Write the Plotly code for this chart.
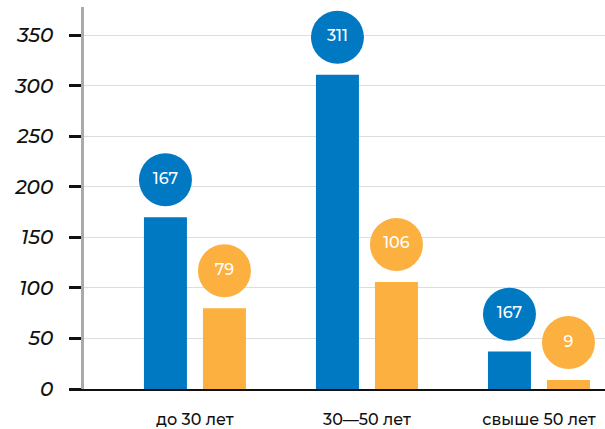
import plotly.graph_objects as go

categories = ["до 30 лет", "30—50 лет", "свыше 50 лет"]
blue_values = [170, 311, 37]
orange_values = [80, 106, 9]
blue_labels = ["167", "311", "167"]
orange_labels = ["79", "106", "9"]
y_ticks = [0, 50, 100, 150, 200, 250, 300, 350]

BLUE = "#0079C2"
ORANGE = "#FBB040"
FONT = "Montserrat, 'Open Sans', Lato, sans-serif"

pos = list(range(len(categories)))
bar_w = 0.25
shift = 0.1715
circle_gap = 37

fig = go.Figure()
fig.add_trace(go.Bar(x=pos, y=blue_values, width=bar_w, offset=-shift - bar_w / 2,
                     marker=dict(color=BLUE, line=dict(width=0)), showlegend=False,
                     hoverinfo="skip"))
fig.add_trace(go.Bar(x=pos, y=orange_values, width=bar_w, offset=shift - bar_w / 2,
                     marker=dict(color=ORANGE, line=dict(width=0)), showlegend=False,
                     hoverinfo="skip"))
fig.add_trace(go.Scatter(x=[p - shift for p in pos], y=[v + circle_gap for v in blue_values],
                         mode="markers+text", text=blue_labels, textposition="middle center",
                         marker=dict(size=53, color=BLUE, line=dict(width=0)),
                         textfont=dict(color="white", size=16, family=FONT, weight=500),
                         showlegend=False, hoverinfo="skip", cliponaxis=False))
fig.add_trace(go.Scatter(x=[p + shift for p in pos], y=[v + circle_gap for v in orange_values],
                         mode="markers+text", text=orange_labels, textposition="middle center",
                         marker=dict(size=53, color=ORANGE, line=dict(width=0)),
                         textfont=dict(color="white", size=16, family=FONT, weight=500),
                         showlegend=False, hoverinfo="skip", cliponaxis=False))

fig.update_layout(
    width=605, height=429,
    margin=dict(l=84, r=0, t=7, b=40),
    paper_bgcolor="white", plot_bgcolor="white",
    font=dict(family=FONT, color="#111111"),
    barmode="overlay",
    xaxis=dict(range=[-0.645, 2.384], tickmode="array", tickvals=pos, ticktext=categories,
               showgrid=False, zeroline=False, showline=True, linecolor="#111111", linewidth=1.5,
               ticks="", ticklabelstandoff=15, automargin=False,
               tickfont=dict(size=16, color="#111111", weight=500)),
    yaxis=dict(range=[0, 378], tickmode="array", tickvals=y_ticks, automargin=False,
               showgrid=True, gridcolor="#DDDDDD", gridwidth=1,
               zeroline=False, showline=True, linecolor="#AAAAAA", linewidth=2.5,
               ticks="outside", ticklen=12, tickwidth=3, tickcolor="#111111",
               ticklabelstandoff=12,
               tickfont=dict(size=20, color="#111111", style="italic", weight=500)),
)

fig.write_html("out.html", config={"displayModeBar": False},
               post_script="document.body.style.margin='0';document.body.style.overflow='hidden';")
